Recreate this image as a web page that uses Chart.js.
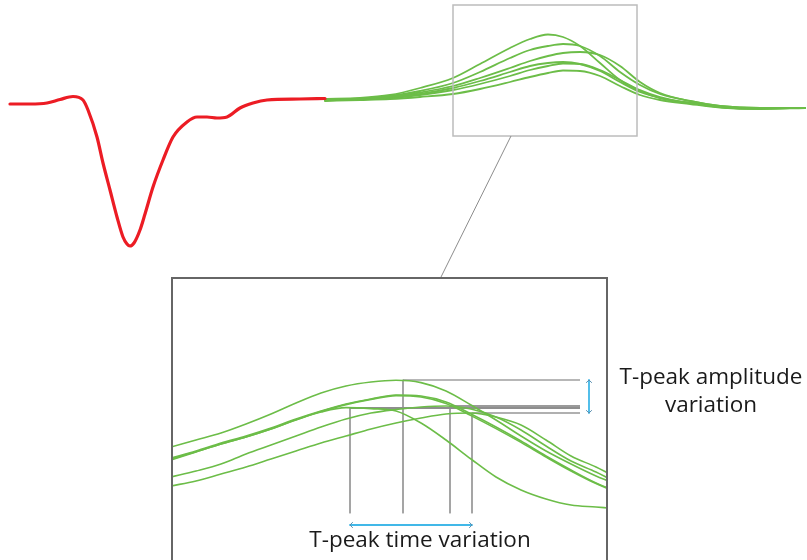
<!DOCTYPE html>
<html><head><meta charset="utf-8">
<script src="https://cdn.jsdelivr.net/npm/chart.js@4/dist/chart.umd.min.js"></script>
<style>
html,body{margin:0;padding:0;background:#fff;}
#wrap{position:relative;width:807px;height:560px;overflow:hidden;background:#fff;}
#top{position:absolute;left:0;top:0;}
#inset{position:absolute;left:171px;top:277px;}
.lbl{position:absolute;font-family:"Open Sans",sans-serif;font-size:22.5px;color:#1a1a1a;white-space:nowrap;text-align:center;}
</style></head><body>
<div id="wrap">
<canvas id="top" width="807" height="560"></canvas>
<canvas id="inset" width="437" height="283"></canvas>
<div class="lbl" style="left:611px;top:362px;width:200px;line-height:28px;">T-peak amplitude<br>variation</div>
<div class="lbl" style="left:270px;top:528px;width:300px;line-height:22.5px;">T-peak time variation</div>
</div>
<script>
// ---------- main trace (time in ms, amplitude in mV) ----------
const ecgTime = [10,30,47,60,73,83,88,97,103,110,117,123,127,130,134,140,145,153,163,173,187,197,207,217,227,240,253,267,300,325];
const ecgAmp  = [-0.03,-0.03,-0.02,0.015,0.045,0.01,-0.09,-0.36,-0.62,-0.89,-1.16,-1.36,-1.43,-1.45,-1.42,-1.29,-1.13,-0.86,-0.59,-0.36,-0.21,-0.16,-0.16,-0.17,-0.16,-0.07,-0.02,0.01,0.02,0.025];

const tTime  = [325,360,390,420,453,480,510,530,548,563,580,600,620,640,660,690,720,760,805];
const tWave1 = [0.02,0.03,0.06,0.13,0.23,0.37,0.53,0.62,0.665,0.64,0.55,0.38,0.21,0.10,0.03,-0.02,-0.06,-0.07,-0.07];
const tWave2 = [0.015,0.025,0.05,0.10,0.18,0.29,0.43,0.51,0.55,0.57,0.55,0.45,0.29,0.16,0.07,0.0,-0.05,-0.07,-0.07];
const tWave3 = [0.01,0.02,0.04,0.085,0.15,0.23,0.33,0.40,0.45,0.48,0.49,0.46,0.35,0.19,0.08,0.0,-0.05,-0.07,-0.07];
const tWave4 = [0.01,0.02,0.035,0.07,0.13,0.20,0.29,0.35,0.38,0.39,0.37,0.30,0.19,0.09,0.03,-0.02,-0.06,-0.075,-0.07];
const tWave5 = [0.005,0.015,0.03,0.06,0.11,0.17,0.25,0.31,0.35,0.375,0.37,0.31,0.21,0.11,0.04,-0.02,-0.06,-0.075,-0.07];
const tWave6 = [0.0,0.01,0.02,0.04,0.07,0.12,0.19,0.24,0.28,0.305,0.30,0.25,0.15,0.06,0.01,-0.03,-0.065,-0.08,-0.07];

// zoom window on the main trace: [tStart, tEnd, ampTop, ampBottom]
const zoomWindow = [453, 637, 0.96, -0.35];
// connector from window to inset: [t1, amp1, t2, amp2]
const connector = [511, -0.35, 441, -1.76];

// ---------- inset (magnified T-waves) ----------
const insetTime = [450,460,470,480,490,500,510,520,530,540,550,560,570,580,590,600,610,620,624.8];
const insetA  = [0.35,0.385,0.42,0.465,0.515,0.57,0.62,0.655,0.675,0.684,0.672,0.63,0.56,0.485,0.405,0.33,0.265,0.205,0.18];
const insetB1 = [0.295,0.33,0.37,0.405,0.445,0.49,0.53,0.565,0.59,0.61,0.605,0.575,0.515,0.45,0.38,0.305,0.235,0.17,0.145];
const insetB2 = [0.29,0.326,0.365,0.40,0.44,0.486,0.527,0.562,0.588,0.607,0.60,0.568,0.507,0.442,0.373,0.30,0.23,0.167,0.142];
const insetC  = [0.2,0.23,0.265,0.315,0.36,0.405,0.45,0.49,0.52,0.5375,0.55,0.555,0.54,0.50,0.435,0.355,0.28,0.225,0.195];
const insetD  = [0.155,0.18,0.215,0.25,0.29,0.33,0.37,0.405,0.44,0.47,0.495,0.515,0.52,0.50,0.46,0.385,0.305,0.25,0.22];
const insetE  = [0.285,0.325,0.365,0.40,0.44,0.485,0.525,0.547,0.542,0.53,0.47,0.385,0.29,0.20,0.135,0.09,0.06,0.05,0.045];

// T-peak markers (E, A, C, D)
const peakTimes = [521.6, 542.8, 561.6, 570.4];
const peakAmps  = [0.545, 0.685, 0.555, 0.52];
const guideBottom = 0.02;
const guideRight = 613.6;
const timeArrowAmp = -0.04;
const ampArrowTime = 617.2;

const RED = '#ec1c24', GREEN = '#6cbd48', BLUE = '#41b8e8';
const pts = (xs, ys) => xs.map((x, i) => ({x: x, y: ys[i]}));

const baseOpts = (xmin, xmax, ymin, ymax) => ({
  responsive: false, animation: false, devicePixelRatio: 1,
  layout: {padding: 0},
  plugins: {legend: {display: false}, tooltip: {enabled: false}},
  elements: {point: {radius: 0, hoverRadius: 0},
             line: {cubicInterpolationMode: 'monotone', borderCapStyle: 'round', borderJoinStyle: 'round'}},
  scales: {x: {type: 'linear', min: xmin, max: xmax, display: false},
           y: {type: 'linear', min: ymin, max: ymax, display: false}}
});

// ---------- top chart ----------
const windowPlugin = {
  id: 'zoomWindow',
  afterDatasetsDraw(chart) {
    const {ctx, scales: {x, y}} = chart;
    ctx.save();
    ctx.strokeStyle = '#bcbcbc'; ctx.lineWidth = 1.5;
    const x0 = x.getPixelForValue(zoomWindow[0]), x1 = x.getPixelForValue(zoomWindow[1]);
    const y0 = y.getPixelForValue(zoomWindow[2]), y1 = y.getPixelForValue(zoomWindow[3]);
    ctx.strokeRect(x0, y0, x1 - x0, y1 - y0);
    ctx.strokeStyle = '#8c8c8c'; ctx.lineWidth = 1;
    ctx.beginPath();
    ctx.moveTo(x.getPixelForValue(connector[0]), y.getPixelForValue(connector[1]));
    ctx.lineTo(x.getPixelForValue(connector[2]), y.getPixelForValue(connector[3]));
    ctx.stroke();
    ctx.restore();
  }
};
const tWaves = [tWave1, tWave2, tWave3, tWave4, tWave5, tWave6];
const topSets = [{data: pts(ecgTime, ecgAmp), borderColor: RED, borderWidth: 3.2}]
  .concat(tWaves.map(w => ({data: pts(tTime, w), borderColor: GREEN, borderWidth: 1.8})));
new Chart(document.getElementById('top'), {
  type: 'line',
  data: {datasets: topSets},
  options: baseOpts(0, 807, -4.59, 1.01),
  plugins: [windowPlugin]
});

// ---------- inset chart ----------
const guideSets = [];
const hColors = ['#8e8e8e', '#707070', '#9a9a9a', '#b0b0b0'];
const hWidths = [1.8, 1.2, 1.8, 1.8];
peakTimes.forEach((t, i) => {
  guideSets.push({data: [{x: t, y: peakAmps[i]}, {x: guideRight, y: peakAmps[i]}],
    borderColor: hColors[i], borderWidth: hWidths[i], cubicInterpolationMode: 'default', tension: 0, order: 2, borderCapStyle: 'butt'});
  guideSets.push({data: [{x: t, y: peakAmps[i]}, {x: t, y: guideBottom}],
    borderColor: '#6a6a6a', borderWidth: 1.2, cubicInterpolationMode: 'default', tension: 0, order: 2, borderCapStyle: 'butt'});
});
const timeArrow = {data: [{x: peakTimes[0], y: timeArrowAmp}, {x: peakTimes[3], y: timeArrowAmp}],
  borderColor: BLUE, borderWidth: 1.8, tension: 0, cubicInterpolationMode: 'default', order: 0, arrow: true};
const ampArrow = {data: [{x: ampArrowTime, y: peakAmps[1]}, {x: ampArrowTime, y: peakAmps[3]}],
  borderColor: BLUE, borderWidth: 1.8, tension: 0, cubicInterpolationMode: 'default', order: 0, arrow: true};
const insetWaves = [insetA, insetB1, insetB2, insetC, insetD, insetE];
const insetSets = insetWaves.map(w => ({data: pts(insetTime, w), borderColor: GREEN, borderWidth: 1.6, order: 1}))
  .concat(guideSets, [timeArrow, ampArrow]);

const arrowPlugin = {
  id: 'arrows',
  afterDatasetsDraw(chart) {
    const {ctx} = chart;
    ctx.save();
    chart.data.datasets.forEach((ds, i) => {
      if (!ds.arrow) return;
      const m = chart.getDatasetMeta(i).data;
      const a = m[0], b = m[m.length - 1];
      const ang = Math.atan2(b.y - a.y, b.x - a.x);
      ctx.strokeStyle = '#5a8fb0'; ctx.lineWidth = 1;
      [[a, ang + Math.PI], [b, ang]].forEach(([p, an]) => {
        ctx.beginPath();
        ctx.moveTo(p.x - 4 * Math.cos(an - 0.8), p.y - 4 * Math.sin(an - 0.8));
        ctx.lineTo(p.x, p.y);
        ctx.lineTo(p.x - 4 * Math.cos(an + 0.8), p.y - 4 * Math.sin(an + 0.8));
        ctx.stroke();
      });
    });
    // inset frame
    const ca = chart.chartArea;
    ctx.strokeStyle = '#666'; ctx.lineWidth = 2;
    ctx.beginPath();
    ctx.moveTo(ca.left + 1, ca.bottom + 5);
    ctx.lineTo(ca.left + 1, ca.top + 1);
    ctx.lineTo(ca.right - 1, ca.top + 1);
    ctx.lineTo(ca.right - 1, ca.bottom + 5);
    ctx.stroke();
    ctx.restore();
  }
};
new Chart(document.getElementById('inset'), {
  type: 'line',
  data: {datasets: insetSets},
  options: baseOpts(450, 624.8, -0.215, 1.2),
  plugins: [arrowPlugin]
});
</script>
</body></html>
